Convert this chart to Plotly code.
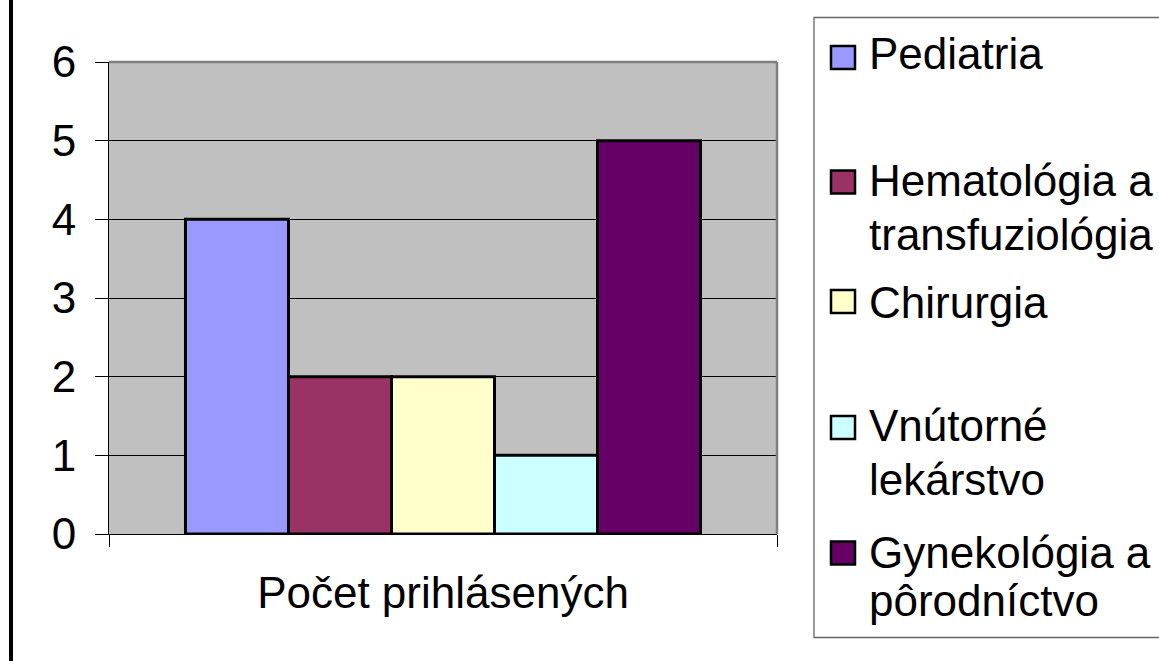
import plotly.graph_objects as go

category = ["Počet prihlásených"]
series_names = ["Pediatria", "Hematológia a transfuziológia", "Chirurgia",
                "Vnútorné lekárstvo", "Gynekológia a pôrodníctvo"]
series_values = [4, 2, 2, 1, 5]
series_colors = ["#9999FF", "#993366", "#FFFFCC", "#CCFFFF", "#660066"]
# legend text lines (as wrapped in the original legend)
legend_lines = [["Pediatria"], ["Hematológia a", "transfuziológia"], ["Chirurgia"],
                ["Vnútorné", "lekárstvo"], ["Gynekológia a", "pôrodníctvo"]]
y_ticks = [0, 1, 2, 3, 4, 5, 6]

W, H = 1159, 661
L, R, T, B = 109, 777, 62, 534
FONT = "Liberation Sans, Arial, sans-serif"
FS = 44


def px(x):
    return (x - L) / (R - L)


def py(y):
    return (B - y) / (B - T)


fig = go.Figure()
for name, val, col in zip(series_names, series_values, series_colors):
    fig.add_trace(go.Bar(x=category, y=[val], name=name, marker_color=col,
                         marker_line_color="black", marker_line_width=3,
                         showlegend=False))

shapes = []
# plot area border (top and right, gray)
shapes.append(dict(type="line", xref="paper", yref="paper", x0=0, x1=1, y0=1, y1=1,
                   line=dict(color="#808080", width=2.5), layer="above"))
shapes.append(dict(type="line", xref="paper", yref="paper", x0=1, x1=1, y0=0, y1=1,
                   line=dict(color="#808080", width=2.5), layer="above"))
# chart outer border (left edge visible)
shapes.append(dict(type="line", xref="paper", yref="paper", x0=px(11), x1=px(11),
                   y0=py(-5), y1=py(700), line=dict(color="black", width=4)))
# legend box (right edge runs off the canvas)
shapes.append(dict(type="rect", xref="paper", yref="paper", x0=px(814), x1=px(1175),
                   y0=py(637.5), y1=py(17.5), line=dict(color="#666666", width=1.3),
                   fillcolor="white"))

annotations = []
line_centers = [[51.5], [178, 232], [300], [423, 477], [550, 598]]
square_centers = [57.5, 182, 301.5, 427.5, 553]
for lines, centers, sc, col in zip(legend_lines, line_centers, square_centers, series_colors):
    shapes.append(dict(type="rect", xref="paper", yref="paper",
                       x0=px(831), x1=px(855), y0=py(sc + 11.5), y1=py(sc - 11.5),
                       fillcolor=col, line=dict(color="black", width=2.5)))
    for text, c in zip(lines, centers):
        annotations.append(dict(xref="paper", yref="paper", x=px(867), y=py(c + 2),
                                xanchor="left", yanchor="middle", text=text,
                                showarrow=False, font=dict(family=FONT, size=FS, color="black")))

fig.update_layout(
    width=W, height=H,
    margin=dict(l=L, r=W - R, t=T, b=H - B, pad=0),
    paper_bgcolor="white", plot_bgcolor="#C0C0C0",
    barmode="group", bargap=0.229, bargroupgap=0,
    font=dict(family=FONT, size=FS, color="black"),
    shapes=shapes, annotations=annotations,
    showlegend=False,
)
fig.update_yaxes(range=[0, 6], tickvals=y_ticks, showgrid=True, gridcolor="black",
                 gridwidth=1, zeroline=False, showline=True, linecolor="black",
                 linewidth=1, ticks="outside", ticklen=13, tickcolor="black",
                 tickfont=dict(family=FONT, size=FS), ticklabelstandoff=10)
fig.update_xaxes(type="category", tickson="boundaries", ticks="outside", ticklen=12,
                 tickcolor="black", showline=True, linecolor="black", linewidth=1,
                 showgrid=False, tickfont=dict(family=FONT, size=FS), ticklabelstandoff=20)

fig.write_html("out.html", config={"displayModeBar": False},
               post_script="document.body.style.margin='0';document.body.style.overflow='hidden';")
